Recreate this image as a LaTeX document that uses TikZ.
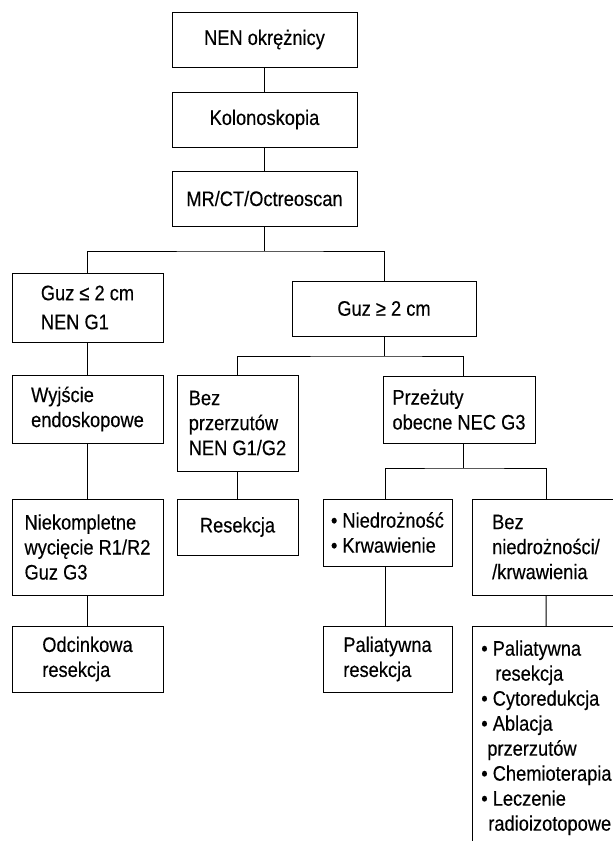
\documentclass[tikz,border=0pt]{standalone}
\usepackage{fontspec}
\setmainfont{Liberation Sans}[FakeStretch=0.87,FakeBold=0.3]

\begin{document}
\begin{tikzpicture}[x=1pt,y=-1pt]
\tikzstyle{blok}=[draw=black, line width=0.9pt, inner sep=0pt, align=left, font=\fontsize{21}{25}\selectfont]
\tikzstyle{linia}=[black, line width=0.9pt]
\useasboundingbox (0,0) rectangle (613,841);
\node [blok, minimum width=185pt, minimum height=55pt] (nen) at (264.5,39.5) {NEN okrężnicy};
\node [blok, minimum width=185pt, minimum height=55pt] (kolo) at (264.5,119.5) {Kolonoskopia};
\node [blok, minimum width=185pt, minimum height=55pt] (mr) at (264.5,198.5) {MR/CT/Octreoscan};
\node [blok, minimum width=151pt, minimum height=69pt] (guzle) at (87.5,307.5) {Guz ≤ 2 cm\\[4pt]NEN G1};
\node [blok, minimum width=184pt, minimum height=55pt] (guzge) at (384,308.5) {Guz ≥ 2 cm};
\node [blok, minimum width=151pt, minimum height=68pt] (wyj) at (87.5,409) {Wyjście\\endoskopowe};
\node [blok, minimum width=121pt, minimum height=96pt] (bezp) at (237.5,423) {Bez\\przerzutów\\NEN G1/G2};
\node [blok, minimum width=152pt, minimum height=67pt] (prz) at (459,409.5) {Przeżuty\\obecne NEC G3};
\node [blok, minimum width=151pt, minimum height=96pt] (niek) at (87.5,547) {Niekompletne\\wycięcie R1/R2\\Guz G3};
\node [blok, minimum width=121pt, minimum height=56pt] (res) at (237.5,527) {Resekcja};
\node [blok, minimum width=129pt, minimum height=67pt] (niedr) at (387.5,532.5) {• Niedrożność\\• Krwawienie};
\node [blok, minimum width=148pt, minimum height=96pt] (bezn) at (546,547) {Bez\\niedrożności/\\/krwawienia};
\node [blok, minimum width=151pt, minimum height=66pt] (odc) at (87.5,659) {Odcinkowa\\resekcja};
\node [blok, minimum width=129pt, minimum height=66pt] (pal) at (387.5,659) {Paliatywna\\resekcja};
\node [blok, anchor=north west, minimum width=148pt, inner xsep=3pt, inner ysep=14pt] (lista) at (472,626) {• Paliatywna\\\hspace*{14pt}resekcja\\• Cytoredukcja\\• Ablacja\\\hspace*{6pt}przerzutów\\• Chemioterapia\\• Leczenie\\\hspace*{7pt}radioizotopowe};
\coordinate (s1) at (264,251);
\coordinate (s2) at (382,356);
\coordinate (s3) at (463,468);
\draw [linia] (nen) -- (kolo);
\draw [linia] (kolo) -- (mr);
\draw [linia] (mr.south) -- (mr.south |- s1);
\draw [linia] (guzle.north) |- (s1) -| (guzge.north);
\draw [linia] (guzle) -- (wyj);
\draw [linia] (wyj) -- (niek);
\draw [linia] (niek) -- (odc);
\draw [linia] (guzge.south) -- (guzge.south |- s2);
\draw [linia] (bezp.north) |- (s2) -| ([xshift=4pt]prz.north);
\draw [linia] (bezp) -- (res);
\draw [linia] ([xshift=4pt]prz.south) -- ([xshift=4pt]prz.south |- s3);
\draw [linia] ([xshift=-2.5pt]niedr.north) |- (s3) -| (bezn.north);
\draw [linia] ([xshift=-2.5pt]niedr.south) -- ([xshift=-2.5pt]pal.north);
\draw [linia] (bezn) -- (lista);
\end{tikzpicture}
\end{document}
